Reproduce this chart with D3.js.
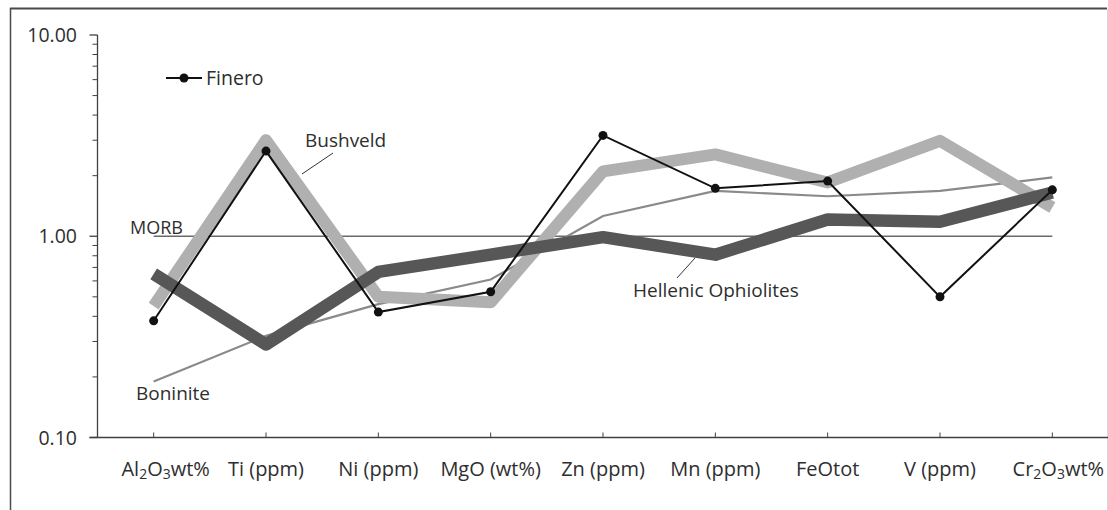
<!DOCTYPE html>
<html><head><meta charset="utf-8">
<script src="https://cdn.jsdelivr.net/npm/d3@7"></script>
<style>
html,body{margin:0;padding:0;background:#fff;}
svg text{font-family:"Open Sans",Lato,sans-serif;fill:#2e2e2e;}
</style></head>
<body>
<svg id="c" width="1108" height="510"></svg>
<script>
const categories = ["Al2O3wt%","Ti (ppm)","Ni (ppm)","MgO (wt%)","Zn (ppm)","Mn (ppm)","FeOtot","V (ppm)","Cr2O3wt%"];
const finero   = [0.38, 2.65, 0.42, 0.53, 3.17, 1.73, 1.88, 0.50, 1.70];
const bushveld = [0.45, 3.0, 0.50, 0.47, 2.10, 2.55, 1.85, 2.98, 1.39];
const hellenic = [0.65, 0.29, 0.665, 0.81, 0.99, 0.81, 1.21, 1.18, 1.65];
const boninite = [0.19, 0.32, 0.46, 0.61, 1.26, 1.68, 1.58, 1.68, 1.96];
const morb     = [1,1,1,1,1,1,1,1,1];
const yTicks = [0.1, 1, 10];

(function(){
const svg = d3.select("#c");
const W = 1108, H = 510;
const pL = 97.5, pR = 1108.5, pT = 35, pB = 437.5;

svg.append("rect").attr("x",0).attr("y",0).attr("width",W).attr("height",H).attr("fill","#fff");
svg.append("line").attr("x1",10).attr("x2",1107).attr("y1",8.5).attr("y2",8.5).attr("stroke","#4a4a4a").attr("stroke-width",2);
svg.append("line").attr("x1",10.5).attr("x2",10.5).attr("y1",8).attr("y2",H).attr("stroke","#4a4a4a").attr("stroke-width",1.5);
svg.append("line").attr("x1",1107.5).attr("x2",1107.5).attr("y1",9).attr("y2",H).attr("stroke","#d8d8d8").attr("stroke-width",1);

const x = d3.scalePoint().domain(categories).range([pL, pR]).padding(0.5);
const y = d3.scaleLog().domain([0.1, 10]).range([pB, pT]);

const minor = [];
[0.1,1].forEach(d=>{for(let k=2;k<=9;k++) minor.push(d*k);});
const ya = svg.append("g");
ya.append("line").attr("x1",pL).attr("x2",pL).attr("y1",pT).attr("y2",pB).attr("stroke","#404040").attr("stroke-width",1.3);
ya.selectAll(".mn").data(minor).enter().append("line")
  .attr("x1",pL-5).attr("x2",pL).attr("y1",d=>y(d)).attr("y2",d=>y(d)).attr("stroke","#404040").attr("stroke-width",1);
ya.selectAll(".mj").data(yTicks).enter().append("line")
  .attr("x1",pL-8).attr("x2",pL).attr("y1",d=>y(d)).attr("y2",d=>y(d)).attr("stroke","#404040").attr("stroke-width",1.3);
ya.selectAll(".lb").data(yTicks).enter().append("text")
  .attr("x",77).attr("y",d=>y(d)+7).attr("text-anchor","end").attr("font-size",19.5)
  .text(d=>d3.format(".2f")(d));

const xa = svg.append("g");
xa.append("line").attr("x1",pL-8).attr("x2",pR).attr("y1",pB).attr("y2",pB).attr("stroke","#404040").attr("stroke-width",1.3);
xa.selectAll(".tk").data(categories).enter().append("line")
  .attr("x1",d=>x(d)).attr("x2",d=>x(d)).attr("y1",pB-5).attr("y2",pB).attr("stroke","#404040").attr("stroke-width",1);
const sub = {"Al2O3wt%":[["Al"],["2",1],["O"],["3",1],["wt%"]],"Cr2O3wt%":[["Cr"],["2",1],["O"],["3",1],["wt%"]]};
const shift = {"Al2O3wt%":12,"Cr2O3wt%":6};
xa.selectAll(".xl").data(categories).enter().append("text")
  .attr("x",d=>x(d)+(shift[d]||0)).attr("y",476).attr("text-anchor","middle").attr("font-size",20)
  .each(function(d){
    const t = d3.select(this);
    if(sub[d]){
      sub[d].forEach((p,i)=>{
        const s = t.append("tspan").text(p[0]);
        if(p[1]) s.attr("font-size",14).attr("dy",3);
        else if(i>0) s.attr("dy",-3);
      });
    } else t.text(d);
  });

const line = d3.line().x((d,i)=>x(categories[i])).y(d=>y(d));

svg.append("path").datum(morb).attr("d",line).attr("fill","none").attr("stroke","#6a6a6a").attr("stroke-width",1.3);
svg.append("path").datum(boninite).attr("d",line).attr("fill","none").attr("stroke","#8a8a8a").attr("stroke-width",2.2);
svg.append("path").datum(bushveld).attr("d",line).attr("fill","none").attr("stroke","#b0b0b0").attr("stroke-width",12).attr("stroke-linejoin","round");
svg.append("path").datum(hellenic).attr("d",line).attr("fill","none").attr("stroke","#575757").attr("stroke-width",12.5).attr("stroke-linejoin","round");
svg.append("path").datum(finero).attr("d",line).attr("fill","none").attr("stroke","#111").attr("stroke-width",2);
svg.selectAll(".fd").data(finero).enter().append("circle")
  .attr("cx",(d,i)=>x(categories[i])).attr("cy",d=>y(d)).attr("r",4.5).attr("fill","#111");

svg.append("line").attr("x1",166).attr("x2",202).attr("y1",78).attr("y2",78).attr("stroke","#111").attr("stroke-width",2);
svg.append("circle").attr("cx",184).attr("cy",78).attr("r",4.5).attr("fill","#111");
svg.append("text").attr("x",206).attr("y",85).attr("font-size",19.5).text("Finero");

svg.append("text").attr("x",305).attr("y",147).attr("font-size",19).text("Bushveld");
svg.append("line").attr("x1",333).attr("y1",153).attr("x2",302).attr("y2",174).attr("stroke","#333").attr("stroke-width",1);
svg.append("text").attr("x",130).attr("y",234).attr("font-size",18).text("MORB");
svg.append("text").attr("x",136).attr("y",400).attr("font-size",19).text("Boninite");
svg.append("text").attr("x",633).attr("y",297).attr("font-size",19).text("Hellenic Ophiolites");
svg.append("line").attr("x1",695).attr("y1",258).attr("x2",677).attr("y2",278).attr("stroke","#333").attr("stroke-width",1);
})();
</script>
</body></html>
